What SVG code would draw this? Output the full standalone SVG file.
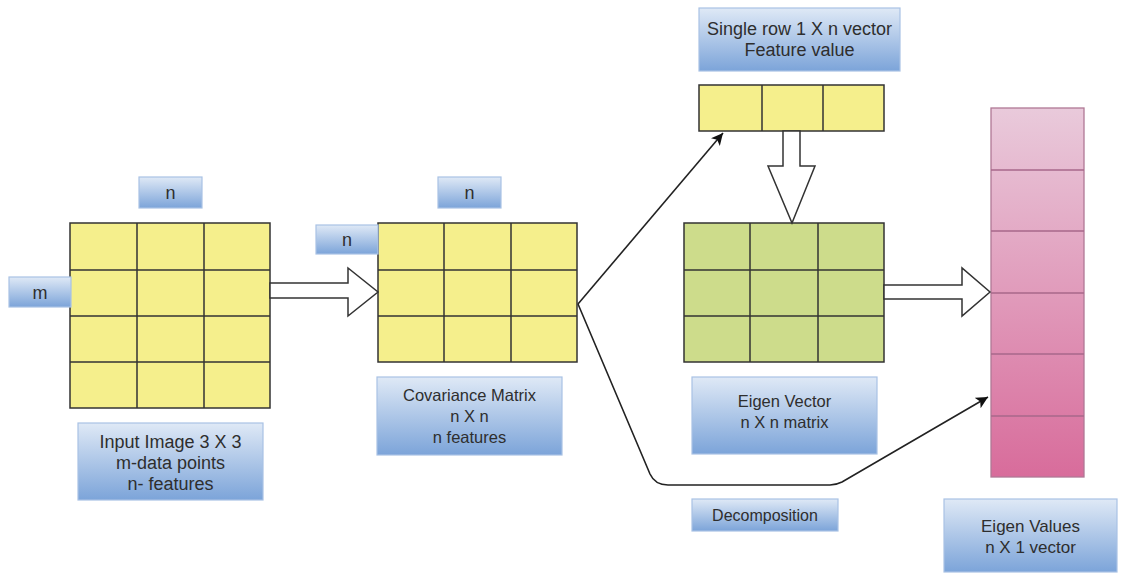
<svg xmlns="http://www.w3.org/2000/svg" width="1123" height="574" viewBox="0 0 1123 574">
<defs>
<linearGradient id="blue" x1="0" y1="0" x2="0" y2="1">
<stop offset="0" stop-color="#dfe9f6"/>
<stop offset="1" stop-color="#7ca4d9"/>
</linearGradient>
<linearGradient id="pink" x1="0" y1="0" x2="0" y2="1">
<stop offset="0" stop-color="#e9cadb"/>
<stop offset="1" stop-color="#d86c9b"/>
</linearGradient>
<marker id="ah" markerUnits="userSpaceOnUse" markerWidth="14" markerHeight="12" refX="12" refY="6" orient="auto">
<path d="M0,0 L12,6 L0,12 L3,6 Z" fill="#111"/>
</marker>
<style>
.lbl{fill:url(#blue);stroke:#a9c2e4;stroke-width:1.2}
.t{font-family:"Liberation Sans",Arial,sans-serif;fill:#2e2e2e;text-anchor:middle}
.yel{fill:#f5ef8c;stroke:#333;stroke-width:1.5}
.grn{fill:#cddc8b;stroke:#333;stroke-width:1.5}
.grid{stroke:#333;stroke-width:1.5;fill:none}
.pgrid{stroke:#a8688a;stroke-width:1.3;fill:none}
.blk{fill:#fff;stroke:#333;stroke-width:1.5}
.con{fill:none;stroke:#222;stroke-width:1.6}
</style>
</defs>
<rect width="1123" height="574" fill="#fff"/>

<g id="input-matrix">
<rect class="yel" x="70" y="223" width="200" height="185"/>
<path class="grid" d="M137,223V408M204,223V408M70,270H270M70,316H270M70,362H270"/>
</g>
<g id="input-n">
<rect class="lbl" x="139" y="177" width="63" height="31"/>
<text class="t" x="170.5" y="199" font-size="18">n</text>
</g>
<g id="input-m">
<rect class="lbl" x="9" y="277" width="62" height="30"/>
<text class="t" x="40" y="298.5" font-size="18">m</text>
</g>
<g id="input-label">
<rect class="lbl" x="78" y="423" width="185" height="77"/>
<text class="t" font-size="18" x="170.5"><tspan x="170.5" y="448">Input Image 3 X 3</tspan><tspan x="170.5" y="469">m-data points</tspan><tspan x="170.5" y="490">n- features</tspan></text>
</g>

<g id="cov-matrix">
<rect class="yel" x="378" y="223" width="199" height="139"/>
<path class="grid" d="M444,223V362M511,223V362M378,270H577M378,316H577"/>
</g>
<g id="cov-n-top">
<rect class="lbl" x="438" y="177" width="63" height="31"/>
<text class="t" x="469.5" y="199" font-size="18">n</text>
</g>
<g id="cov-n-left">
<rect class="lbl" x="316" y="225" width="62" height="29"/>
<text class="t" x="347" y="245.5" font-size="18">n</text>
</g>
<g id="cov-label">
<rect class="lbl" x="377" y="377" width="185" height="78"/>
<text class="t" font-size="16.5"><tspan x="469.5" y="401">Covariance Matrix</tspan><tspan x="469.5" y="422">n X n</tspan><tspan x="469.5" y="443">n features</tspan></text>
</g>

<g id="row-vector">
<rect class="yel" x="699" y="85" width="185" height="46"/>
<path class="grid" d="M762,85V131M823,85V131"/>
</g>
<g id="row-label">
<rect class="lbl" x="699" y="8" width="201" height="63"/>
<text class="t" font-size="18"><tspan x="799.5" y="35">Single row 1 X n vector</tspan><tspan x="799.5" y="56">Feature value</tspan></text>
</g>

<g id="eigen-vector">
<rect class="grn" x="684" y="223" width="200" height="139"/>
<path class="grid" d="M750,223V362M818,223V362M684,270H884M684,316H884"/>
</g>
<g id="eigen-vector-label">
<rect class="lbl" x="692" y="377" width="185" height="77"/>
<text class="t" font-size="16.5"><tspan x="784.5" y="407">Eigen Vector</tspan><tspan x="784.5" y="428">n X n matrix</tspan></text>
</g>

<g id="decomposition-label">
<rect class="lbl" x="692" y="499" width="146" height="32"/>
<text class="t" x="765" y="521" font-size="16">Decomposition</text>
</g>

<g id="eigen-values">
<rect x="991" y="108" width="93" height="369" fill="url(#pink)" stroke="#b07895" stroke-width="1.3"/>
<path class="pgrid" d="M991,170H1084M991,231H1084M991,293H1084M991,354H1084M991,416H1084"/>
</g>
<g id="eigen-values-label">
<rect class="lbl" x="944" y="499" width="173" height="73"/>
<text class="t" font-size="17"><tspan x="1030.5" y="532">Eigen Values</tspan><tspan x="1030.5" y="553">n X 1 vector</tspan></text>
</g>

<g id="connectors">
<polygon class="blk" points="270,283 348,283 348,268 378,292 348,316 348,298 270,298"/>
<polygon class="blk" points="783,131 800,131 800,166 815,166 792,223 768,166 783,166"/>
<polygon class="blk" points="884,285 962,285 962,268 990,292 962,316 962,299 884,299"/>
<line class="con" x1="578" y1="304" x2="723" y2="133" marker-end="url(#ah)"/>
<path class="con" d="M578,304 L650,474 Q655,485 668,485 L830,485 Q836,485 842,482 L988,397" marker-end="url(#ah)"/>
</g>
</svg>
